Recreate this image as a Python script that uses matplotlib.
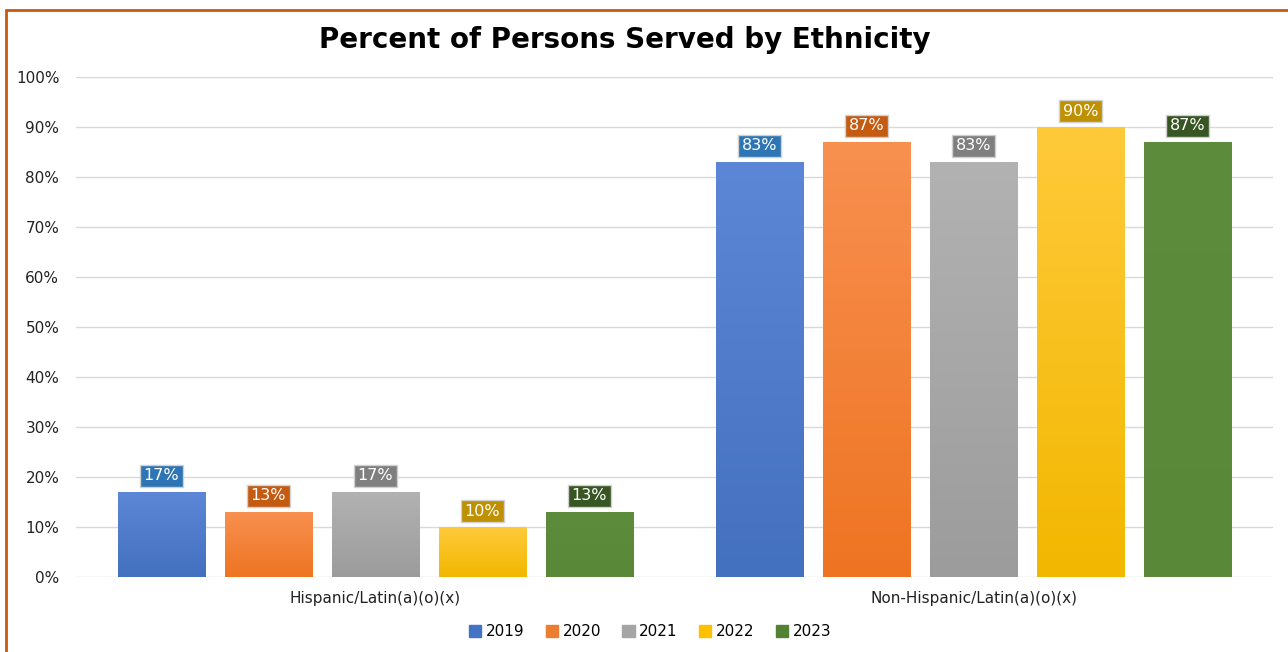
import numpy as np
import matplotlib.pyplot as plt
from matplotlib.patches import Rectangle
from matplotlib.colors import LinearSegmentedColormap

categories = ['Hispanic/Latin(a)(o)(x)', 'Non-Hispanic/Latin(a)(o)(x)']
years = ['2019', '2020', '2021', '2022', '2023']
values = {
    '2019': [17, 83],
    '2020': [13, 87],
    '2021': [17, 83],
    '2022': [10, 90],
    '2023': [13, 87],
}
y_ticks = [0, 10, 20, 30, 40, 50, 60, 70, 80, 90, 100]

# (top of gradient, bottom of gradient, label box)
colors = {
    '2019': ('#5C87D6', '#4470C0', '#2E75B6'),
    '2020': ('#F89050', '#EE7422', '#C55A11'),
    '2021': ('#B2B2B2', '#9C9C9C', '#7F7F7F'),
    '2022': ('#FFCA3A', '#F2B700', '#BF9000'),
    '2023': ('#5C8C3C', '#588838', '#375623'),
}
legend_colors = ['#4472C4', '#ED7D31', '#A5A5A5', '#FFC000', '#548235']

plt.rcParams['font.family'] = ['DejaVu Sans']

fig = plt.figure(figsize=(12.88, 6.52), dpi=100)
ax = fig.add_axes([76 / 1288, 1 - 577 / 652, 1197 / 1288, 500 / 652])

x = np.arange(len(categories))
width = 0.1454
step = 0.1788
grad = np.linspace(0, 1, 256).reshape(-1, 1)

for i, yr in enumerate(years):
    top, bottom, lab = colors[yr]
    cmap = LinearSegmentedColormap.from_list(yr, [bottom, top])
    offs = (i - 2) * step
    bars = ax.bar(x + offs, values[yr], width, color=legend_colors[i],
                  edgecolor='#E6E6E6', linewidth=0.6, label=yr, zorder=2)
    for b, v in zip(bars, values[yr]):
        x0 = b.get_x()
        im = ax.imshow(grad, extent=(x0, x0 + width, 0, v), origin='lower',
                       cmap=cmap, aspect='auto', zorder=2.5)
        im.set_clip_path(b)
        ax.text(b.get_x() + width / 2, v + 3.2, f'{v}%', ha='center', va='center',
                color='white', fontsize=11.5, zorder=4,
                bbox=dict(boxstyle='square,pad=0.22', facecolor=lab,
                          edgecolor='#D0D0D0', linewidth=1))

ax.set_xlim(-0.5, 1.5)
ax.set_ylim(0, 100)
ax.set_yticks(y_ticks)
ax.set_yticklabels([f'{t}%' for t in y_ticks], fontsize=11, color='#222222')
ax.set_xticks(x)
ax.set_xticklabels(categories, fontsize=11, color='#222222')
ax.tick_params(axis='both', length=0)
ax.tick_params(axis='y', pad=12)
ax.tick_params(axis='x', pad=10)
ax.grid(axis='y', color='#D9D9D9', linewidth=1.0, zorder=0)
ax.set_axisbelow(True)
for s in ax.spines.values():
    s.set_visible(False)

fig.text(625 / 1288, 1 - 40 / 652, 'Percent of Persons Served by Ethnicity',
         ha='center', va='center', fontsize=20, fontweight='bold')

handles = [Rectangle((0, 0), 1, 1, color=c) for c in legend_colors]
fig.legend(handles, years, loc='center', bbox_to_anchor=(650 / 1288, 1 - 632 / 652),
           ncol=5, frameon=False, fontsize=11, handlelength=0.8, handleheight=0.8,
           handletextpad=0.3, columnspacing=1.4)

fig.patches.append(Rectangle((6 / 1288, -0.1), 1.2, 1 - 10 / 652 + 0.1,
                             transform=fig.transFigure, fill=False,
                             edgecolor='#C55A11', linewidth=2))

fig.savefig('out.png', dpi=100)
